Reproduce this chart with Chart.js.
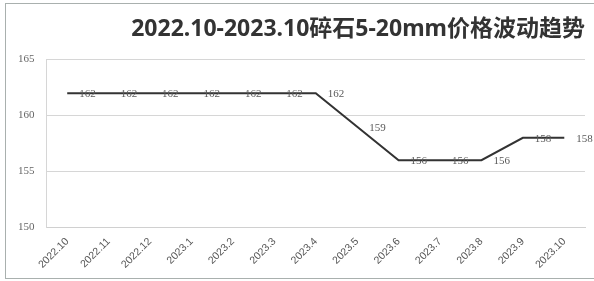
<!DOCTYPE html>
<html>
<head>
<meta charset="utf-8">
<script src="https://cdn.jsdelivr.net/npm/chart.js@4"></script>
<style>
  html, body { margin: 0; padding: 0; background: #fff; }
  #wrap { position: relative; width: 594px; height: 281px; }
  #frame { position: absolute; left: 5px; top: 3px; width: 600px; height: 274px; border: 1px solid #a9b0ae; border-right: none; pointer-events: none; }
</style>
</head>
<body>
<div id="wrap">
  <canvas id="priceChart" width="594" height="281"></canvas>
  <div id="frame"></div>
</div>
<script>
const months = ['2022.10', '2022.11', '2022.12', '2023.1', '2023.2', '2023.3', '2023.4',
  '2023.5', '2023.6', '2023.7', '2023.8', '2023.9', '2023.10'];
const prices = [162, 162, 162, 162, 162, 162, 162, 159, 156, 156, 156, 158, 158];
const yTicks = [150, 155, 160, 165];

// data labels to the right of each point
const pointLabels = {
  id: 'pointLabels',
  afterDatasetsDraw(chart) {
    const c = chart.ctx;
    const meta = chart.getDatasetMeta(0);
    c.save();
    c.font = '11px "Liberation Serif", "DejaVu Serif", serif';
    c.fillStyle = '#5a5a5a';
    c.textAlign = 'left';
    c.textBaseline = 'middle';
    meta.data.forEach((pt, i) => {
      c.fillText(String(prices[i]), pt.x + 12, pt.y + 1);
    });
    c.restore();
  }
};

const ctx = document.getElementById('priceChart').getContext('2d');
new Chart(ctx, {
  type: 'line',
  data: {
    labels: months,
    datasets: [{
      data: prices,
      borderColor: '#333',
      borderWidth: 2,
      pointRadius: 0,
      tension: 0,
      fill: false
    }]
  },
  options: {
    responsive: false,
    animation: false,
    layout: { padding: { left: 6, right: 9, top: 2, bottom: 2 } },
    plugins: {
      legend: { display: false },
      tooltip: { enabled: false },
      title: {
        display: true,
        text: '2022.10-2023.10碎石5-20mm价格波动趋势',
        align: 'end',
        color: '#333',
        font: { family: '"Noto Sans", "Noto Sans CJK SC", sans-serif', size: 23, weight: 'bold' },
        padding: { top: 14, bottom: 16 }
      }
    },
    scales: {
      x: {
        offset: true,
        grid: { display: false, drawTicks: false },
        border: { color: '#d0d0d0', width: 1 },
        ticks: {
          minRotation: 45, maxRotation: 45, autoSkip: false,
          padding: 8,
          color: '#555',
          font: { family: '"Liberation Sans", sans-serif', size: 10.5 }
        }
      },
      y: {
        min: 150, max: 165,
        afterBuildTicks(axis) { axis.ticks = yTicks.map(v => ({ value: v })); },
        grid: { color: '#d6d6d6', drawTicks: false },
        border: { color: '#d6d6d6', width: 1 },
        ticks: {
          padding: 12,
          color: '#666',
          font: { family: '"Liberation Serif", serif', size: 11 }
        }
      }
    }
  },
  plugins: [pointLabels]
});
</script>
</body>
</html>
